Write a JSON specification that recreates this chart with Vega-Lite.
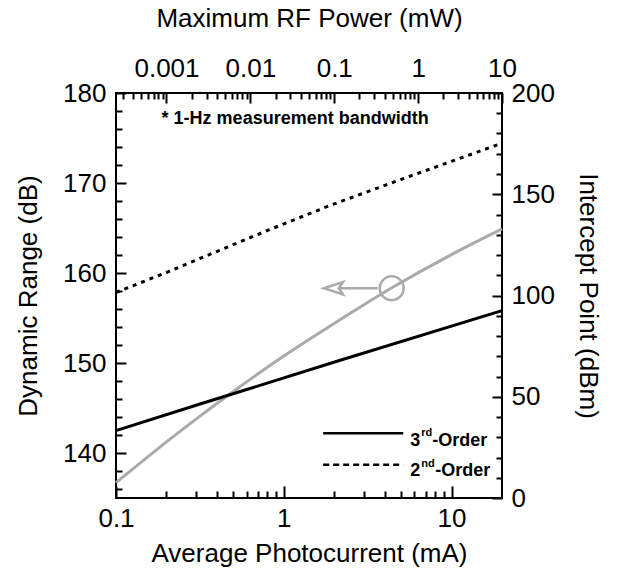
{
  "$schema": "https://vega.github.io/schema/vega-lite/v6.json",
  "width": 386,
  "height": 405,
  "autosize": {"type": "none"},
  "padding": {"left": 116, "top": 93, "right": 115, "bottom": 78},
  "background": "white",
  "config": {
    "view": {"stroke": "black", "strokeWidth": 2},
    "axis": {
      "labelFont": "Liberation Sans",
      "titleFont": "Liberation Sans",
      "labelFontSize": 26,
      "titleFontSize": 26,
      "titleFontWeight": "normal",
      "labelColor": "black",
      "titleColor": "black",
      "tickColor": "black",
      "tickWidth": 2,
      "domain": false,
      "grid": false,
      "labelFlush": false,
      "labelOverlap": false
    },
    "text": {"font": "Liberation Sans"}
  },
  "datasets": {
    "dr": [
      {"I": 0.1, "DR": 136.7},
      {"I": 0.2, "DR": 141.23},
      {"I": 0.317, "DR": 144.1},
      {"I": 0.5, "DR": 146.83},
      {"I": 1.0, "DR": 150.77},
      {"I": 2.0, "DR": 154.4},
      {"I": 4.36, "DR": 158.3},
      {"I": 10, "DR": 162.05},
      {"I": 20, "DR": 164.9}
    ],
    "ip": [
      {"I": 0.1, "IP": 33.3, "order": "3rd"},
      {"I": 0.317, "IP": 46.4, "order": "3rd"},
      {"I": 2.17, "IP": 68.0, "order": "3rd"},
      {"I": 20, "IP": 92.5, "order": "3rd"},
      {"I": 0.1, "IP": 101.5, "order": "2nd"},
      {"I": 0.196, "IP": 111.1, "order": "2nd"},
      {"I": 0.793, "IP": 132.0, "order": "2nd"},
      {"I": 1.892, "IP": 144.5, "order": "2nd"},
      {"I": 5.07, "IP": 157.5, "order": "2nd"},
      {"I": 20, "IP": 175.2, "order": "2nd"}
    ],
    "notes": [
      {"I": 0.187, "DR": 176.6, "label": "* 1-Hz measurement bandwidth"},
      {"I": 5.68, "DR": 140.8, "label": "3"},
      {"I": 7.68, "DR": 140.8, "label": "-Order"},
      {"I": 5.68, "DR": 137.4, "label": "2"},
      {"I": 8.0, "DR": 137.4, "label": "-Order"}
    ],
    "sup": [
      {"I": 6.6, "DR": 141.9, "label": "rd"},
      {"I": 6.6, "DR": 138.5, "label": "nd"}
    ],
    "key": [
      {"I": 1.718, "I2": 5.16, "DR": 142.2, "order": "3rd"},
      {"I": 1.718, "I2": 5.16, "DR": 138.7, "order": "2nd"}
    ],
    "marker": [{"I": 4.4, "DR": 158.3}],
    "arrow": [{"I": 2.11, "I2": 3.63, "DR": 158.3}],
    "head": [{"I": 1.98, "DR": 158.3}],
    "top": [{"P": 0.00025}, {"P": 10}]
  },
  "layer": [
    {
      "data": {"name": "dr"},
      "mark": {"type": "line", "color": "#aaaaaa", "strokeWidth": 3, "interpolate": "natural"},
      "encoding": {
        "x": {"field": "I", "type": "quantitative", "scale": {"type": "log", "domain": [0.1, 20], "nice": false},
          "axis": {"orient": "bottom", "values": [0.1, 1, 10], "format": "~g", "title": "Average Photocurrent (mA)", "tickSize": -12, "labelPadding": 19, "titlePadding": 9}},
        "y": {"field": "DR", "type": "quantitative", "scale": {"domain": [135, 180], "nice": false, "zero": false},
          "axis": {"orient": "left", "values": [140, 150, 160, 170, 180], "title": "Dynamic Range (dB)", "tickSize": -10, "labelPadding": 20, "titlePadding": 21}}
      }
    },
    {
      "data": {"name": "ip"},
      "transform": [{"filter": "datum.order == '3rd'"}],
      "mark": {"type": "line", "color": "black", "strokeWidth": 3},
      "encoding": {
        "x": {"field": "I", "type": "quantitative", "scale": {"type": "log", "domain": [0.1, 20], "nice": false}, "axis": null},
        "y": {"field": "IP", "type": "quantitative", "scale": {"domain": [0, 200], "nice": false},
          "axis": {"orient": "right", "values": [0, 50, 100, 150, 200], "title": "Intercept Point (dBm)", "tickSize": -10, "labelPadding": 19, "titlePadding": 20}}
      }
    },
    {
      "data": {"name": "ip"},
      "transform": [{"filter": "datum.order == '2nd'"}],
      "mark": {"type": "line", "color": "black", "strokeWidth": 3, "strokeDash": [4, 5]},
      "encoding": {
        "x": {"field": "I", "type": "quantitative", "scale": {"type": "log", "domain": [0.1, 20], "nice": false},
          "axis": {"orient": "bottom", "values": [0.2, 0.3, 0.4, 0.5, 0.6, 0.7, 0.8, 0.9, 2, 3, 4, 5, 6, 7, 8, 9], "labels": false, "title": null, "tickSize": -7}},
        "y": {"field": "IP", "type": "quantitative", "scale": {"domain": [0, 200], "nice": false},
          "axis": {"orient": "right", "values": [10, 20, 30, 40, 60, 70, 80, 90, 110, 120, 130, 140, 160, 170, 180, 190], "labels": false, "title": null, "tickSize": -6}}
      }
    },
    {
      "data": {"name": "notes"},
      "mark": {"type": "text", "fontWeight": "bold", "fontSize": 18, "align": "left", "baseline": "alphabetic", "color": "black"},
      "encoding": {
        "x": {"field": "I", "type": "quantitative", "scale": {"type": "log", "domain": [0.1, 20], "nice": false}, "axis": null},
        "y": {"field": "DR", "type": "quantitative", "scale": {"domain": [135, 180], "nice": false, "zero": false},
          "axis": {"orient": "left", "values": [136, 138, 142, 144, 146, 148, 152, 154, 156, 158, 162, 164, 166, 168, 172, 174, 176, 178], "labels": false, "title": null, "tickSize": -6}},
        "text": {"field": "label"}
      }
    },
    {
      "data": {"name": "sup"},
      "mark": {"type": "text", "fontWeight": "bold", "fontSize": 11, "align": "left", "baseline": "alphabetic", "color": "black"},
      "encoding": {
        "x": {"field": "I", "type": "quantitative", "scale": {"type": "log", "domain": [0.1, 20], "nice": false}, "axis": null},
        "y": {"field": "DR", "type": "quantitative", "scale": {"domain": [135, 180], "nice": false, "zero": false}, "axis": null},
        "text": {"field": "label"}
      }
    },
    {
      "data": {"name": "key"},
      "mark": {"type": "rule", "color": "black", "strokeWidth": 2.5},
      "encoding": {
        "x": {"field": "I", "type": "quantitative", "scale": {"type": "log", "domain": [0.1, 20], "nice": false}, "axis": null},
        "x2": {"field": "I2"},
        "y": {"field": "DR", "type": "quantitative", "scale": {"domain": [135, 180], "nice": false, "zero": false}, "axis": null},
        "strokeDash": {"field": "order", "type": "nominal", "scale": {"domain": ["3rd", "2nd"], "range": [[1, 0], [6, 4]]}, "legend": null}
      }
    },
    {
      "data": {"name": "marker"},
      "mark": {"type": "point", "shape": "circle", "filled": false, "stroke": "#aaaaaa", "strokeWidth": 2.5, "size": 570, "opacity": 1},
      "encoding": {
        "x": {"field": "I", "type": "quantitative", "scale": {"type": "log", "domain": [0.1, 20], "nice": false}, "axis": null},
        "y": {"field": "DR", "type": "quantitative", "scale": {"domain": [135, 180], "nice": false, "zero": false}, "axis": null}
      }
    },
    {
      "data": {"name": "arrow"},
      "mark": {"type": "rule", "color": "#aaaaaa", "strokeWidth": 2.5},
      "encoding": {
        "x": {"field": "I", "type": "quantitative", "scale": {"type": "log", "domain": [0.1, 20], "nice": false}, "axis": null},
        "x2": {"field": "I2"},
        "y": {"field": "DR", "type": "quantitative", "scale": {"domain": [135, 180], "nice": false, "zero": false}, "axis": null}
      }
    },
    {
      "data": {"name": "head"},
      "mark": {"type": "point", "shape": "M -1 0 L 1 -0.65 L 0.55 0 L 1 0.65 Z", "filled": true, "fill": "white", "stroke": "#aaaaaa", "strokeWidth": 2.5, "size": 361, "opacity": 1},
      "encoding": {
        "x": {"field": "I", "type": "quantitative", "scale": {"type": "log", "domain": [0.1, 20], "nice": false}, "axis": null},
        "y": {"field": "DR", "type": "quantitative", "scale": {"domain": [135, 180], "nice": false, "zero": false}, "axis": null}
      }
    },
    {
      "data": {"name": "top"},
      "mark": {"type": "point", "opacity": 0},
      "encoding": {
        "x": {"field": "P", "type": "quantitative", "scale": {"type": "log", "domain": [0.00025, 10], "nice": false},
          "axis": {"orient": "top", "values": [0.001, 0.01, 0.1, 1, 10], "format": "~g", "title": "Maximum RF Power (mW)", "tickSize": -10, "labelPadding": 22, "titlePadding": 24}}
      }
    },
    {
      "data": {"name": "top"},
      "mark": {"type": "point", "opacity": 0},
      "encoding": {
        "x": {"field": "P", "type": "quantitative", "scale": {"type": "log", "domain": [0.00025, 10], "nice": false},
          "axis": {"orient": "top", "values": [0.0003, 0.0004, 0.0005, 0.0006, 0.0007, 0.0008, 0.0009, 0.002, 0.003, 0.004, 0.005, 0.006, 0.007, 0.008, 0.009, 0.02, 0.03, 0.04, 0.05, 0.06, 0.07, 0.08, 0.09, 0.2, 0.3, 0.4, 0.5, 0.6, 0.7, 0.8, 0.9, 2, 3, 4, 5, 6, 7, 8, 9], "labels": false, "title": null, "tickSize": -6}}
      }
    }
  ],
  "resolve": {"scale": {"x": "independent", "y": "independent"}}
}
